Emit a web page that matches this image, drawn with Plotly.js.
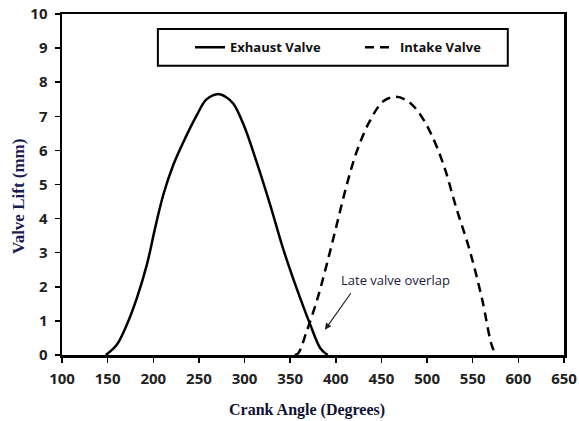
<!DOCTYPE html>
<html>
<head>
<meta charset="utf-8">
<script src="https://cdn.plot.ly/plotly-3.0.1.min.js"></script>
<style>html,body{margin:0;padding:0;background:#fff;}#chart{width:579px;height:421px;}</style>
</head>
<body>
<div id="chart"></div>
<script>
// Exhaust valve lift (crank angle in degrees, lift in mm)
const exhaustAngle = [148, 160, 171, 182, 193, 202, 211, 222, 235, 248, 258, 270, 280, 288, 299, 313, 328, 342, 357, 372, 383, 391];
const exhaustLift  = [0, 0.3, 0.89, 1.67, 2.65, 3.72, 4.7, 5.58, 6.36, 7.05, 7.49, 7.65, 7.56, 7.36, 6.75, 5.68, 4.41, 3.14, 1.96, 0.89, 0.2, 0];

// Intake valve lift
const intakeAngle = [355, 359, 368, 379, 390, 401, 412, 423, 437, 452, 466, 478, 489, 503, 518, 532, 547, 560, 572, 577];
const intakeLift  = [0, 0.06, 0.69, 1.57, 2.65, 3.82, 4.99, 5.97, 6.85, 7.44, 7.57, 7.46, 7.18, 6.56, 5.58, 4.31, 3.04, 1.67, 0.2, 0];

const xTicks = [100, 150, 200, 250, 300, 350, 400, 450, 500, 550, 600, 650];
const yTicks = [0, 1, 2, 3, 4, 5, 6, 7, 8, 9, 10];
const seriesNames = ["Exhaust Valve", "Intake Valve"];
const noteText = "Late valve overlap";
const notePoint = [388, 0.74];
const xTitle = "Crank Angle (Degrees)";
const yTitle = "Valve Lift (mm)";

const traces = [
  {x: exhaustAngle, y: exhaustLift, name: seriesNames[0], mode: "lines",
   line: {color: "#000", width: 2.5, shape: "spline", smoothing: 1}},
  {x: intakeAngle, y: intakeLift, name: seriesNames[1], mode: "lines",
   line: {color: "#000", width: 2.5, dash: "9px,6px", shape: "spline", smoothing: 1}}
];

const tickFont = {family: "Open Sans, sans-serif", size: 15, color: "#222", weight: 700};
const serif = "Liberation Serif, Times New Roman, serif";
const layout = {
  width: 579, height: 421,
  margin: {l: 62, r: 15, t: 14, b: 66},
  paper_bgcolor: "#fff", plot_bgcolor: "#fff",
  showlegend: true,
  legend: {orientation: "h", x: 0.255, xanchor: "left", y: 0.902, yanchor: "middle",
    bgcolor: "rgba(0,0,0,0)", borderwidth: 0,
    entrywidth: 125, entrywidthmode: "pixels",
    font: {family: "Open Sans, sans-serif", size: 13, color: "#111", weight: 700}},
  shapes: [{type: "rect", xref: "paper", yref: "paper", x0: 0.191, x1: 0.888, y0: 0.848, y1: 0.956,
    line: {color: "#000", width: 2}, fillcolor: "rgba(0,0,0,0)", layer: "below"}],
  xaxis: {range: [100, 650], tickvals: xTicks, ticktext: xTicks.map(String),
    showgrid: false, zeroline: false, showline: true, linecolor: "#000", linewidth: 2.5,
    mirror: true, ticks: "outside", ticklen: 5, tickwidth: 1.5, tickcolor: "#000",
    ticklabelstandoff: 3, tickfont: tickFont},
  yaxis: {range: [0, 10], tickvals: yTicks, ticktext: yTicks.map(String),
    showgrid: false, zeroline: false, showline: true, linecolor: "#000", linewidth: 2.5,
    mirror: true, ticks: "outside", ticklen: 5, tickwidth: 1.5, tickcolor: "#000",
    ticklabelstandoff: 4, tickfont: tickFont},
  annotations: [
    {xref: "paper", yref: "paper", x: 0.489, y: -0.161, xanchor: "center", yanchor: "middle",
     text: xTitle, showarrow: false,
     font: {family: serif, size: 16, color: "#111133", weight: 700}},
    {xref: "paper", yref: "paper", x: -0.087, y: 0.467, xanchor: "center", yanchor: "middle",
     text: yTitle, showarrow: false, textangle: -90,
     font: {family: serif, size: 17, color: "#1a1a55", weight: 700}},
    {xref: "x", yref: "y", x: 465, y: 2.2, xanchor: "center", yanchor: "middle",
     text: noteText, showarrow: false,
     font: {family: "Open Sans, sans-serif", size: 13, color: "#1a1a3a"}},
    {xref: "x", yref: "y", x: notePoint[0], y: notePoint[1], text: "", showarrow: true,
     arrowhead: 2, arrowsize: 1.1, arrowwidth: 1.2, arrowcolor: "#222", ax: 27, ay: -38, standoff: 0}
  ]
};

Plotly.newPlot("chart", traces, layout, {displayModeBar: false, staticPlot: true});
</script>
</body>
</html>
